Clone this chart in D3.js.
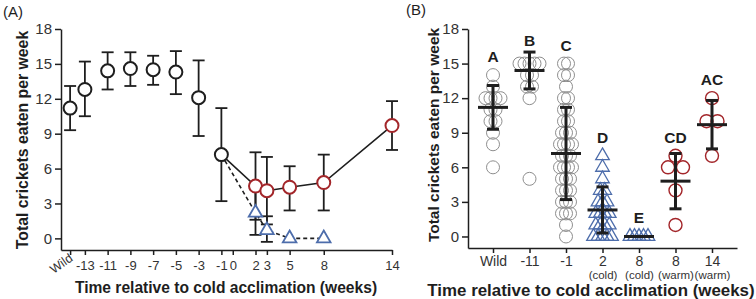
<!DOCTYPE html>
<html>
<head>
<meta charset="utf-8">
<script src="https://cdn.jsdelivr.net/npm/d3@7"></script>
<style>
body { margin: 0; background: #fff; }
svg { font-family: "Liberation Sans", Arial, sans-serif; }
</style>
</head>
<body>
<svg id="chart" width="756" height="299"></svg>
<script>
// ---------- Panel A data (mean with error range) ----------
var baseWeeks = ["Wild", -13, -11, -9, -7, -5, -3, -1];
var baseMean  = [11.2, 12.8, 14.4, 14.6, 14.5, 14.3, 12.1, 7.2];
var baseLo    = [9.3, 10.5, 12.8, 13.1, 13.2, 12.4, 8.8, 3.2];
var baseHi    = [13.1, 15.2, 16.0, 16.0, 15.7, 16.1, 15.3, 11.2];

var warmWeeks = [2, 3, 5, 8, 14];
var warmMean  = [4.5, 4.1, 4.4, 4.8, 9.7];
var warmLo    = [1.6, 1.2, 2.4, 2.4, 7.6];
var warmHi    = [7.4, 7.0, 6.2, 7.2, 11.8];

var coldWeeks = [2, 3, 5, 8];
var coldMean  = [2.2, 0.7, 0, 0];
var coldLo    = [0.3, -0.3, 0, 0];
var coldHi    = [4.2, 1.9, 0, 0];

var xTicksA = ["Wild", -13, -11, -9, -7, -5, -3, -1, 0, 2, 3, 5, 8, 14];
var yTicks  = [0, 3, 6, 9, 12, 15, 18];

// ---------- Panel B data (individual values + mean/sd) ----------
var groupsB  = ["Wild", "-11", "-1", "2 (cold)", "8 (cold)", "8 (warm)", "14 (warm)"];
var lettersB = ["A", "B", "C", "D", "E", "CD", "AC"];
var meanB    = [11.2, 14.4, 7.2, 2.3, 0, 4.8, 9.7];
var loB      = [9.3, 12.8, 3.2, 0.3, 0, 2.4, 7.6];
var hiB      = [13.1, 16.0, 11.2, 4.3, 0, 7.2, 11.8];

var ptsWild  = [14, 13, 12, 12, 12, 12, 11, 11, 10, 10, 9, 8, 6];
var ptsM11   = [15, 15, 15, 15, 15, 14, 14, 13, 13, 12, 5];
var ptsM1    = [15, 15, 14, 14, 13, 12, 12, 11, 11, 10, 10, 9, 9, 9, 8, 8, 8, 8,
                7, 7, 7, 6, 6, 6, 6, 5, 5, 5, 4, 4, 4, 3, 3, 3, 2, 2, 2, 1, 0];
var ptsCold2 = [7, 6, 5, 4, 4, 3, 3, 3, 2, 2, 2, 2, 1, 1, 1, 1, 0, 0, 0, 0, 0];
var ptsCold8 = [0, 0, 0, 0, 0];
var ptsWarm8 = [7, 6, 6, 4, 1];
var ptsWarm14 = [12, 10, 10, 7];
var pointsB = [ptsWild, ptsM11, ptsM1, ptsCold2, ptsCold8, ptsWarm8, ptsWarm14];

// colours
var black = "#1e1e1e", red = "#a3262a", blue = "#4d6dab", grey = "#8e8e8e", txt = "#333";

var svg = d3.select("#chart");

function styleAxis(g, size) {
    g.select(".domain").attr("stroke", black).attr("stroke-width", 1.5);
    g.selectAll(".tick line").attr("stroke", black).attr("stroke-width", 1.5);
    g.selectAll(".tick text").attr("fill", txt).attr("font-size", size + "px");
}

// ================= Panel A =================
var wildPos = -14.3;
function wk(d) { return d === "Wild" ? wildPos : d; }

var xA = d3.scaleLinear().domain([-15.1, 14]).range([61, 392]);
var yA = d3.scaleLinear().domain([-1, 18]).range([250, 29]);

var gA = svg.append("g");

var yAxisA = gA.append("g")
    .attr("transform", "translate(" + xA.range()[0] + ",0)")
    .call(d3.axisLeft(yA).tickValues(yTicks).tickSize(6).tickSizeOuter(0));
styleAxis(yAxisA, 15);

var xAxisA = gA.append("g")
    .attr("transform", "translate(0," + yA.range()[0] + ")")
    .call(d3.axisBottom(xA).tickValues(xTicksA.map(wk)).tickSize(5).tickPadding(6).tickSizeOuter(0)
        .tickFormat(function(d) { return d === wildPos ? "Wild" : d; }));
styleAxis(xAxisA, 13);
xAxisA.selectAll(".tick text")
    .filter(function(d) { return d === wildPos; })
    .attr("text-anchor", "end")
    .attr("font-size", "12.5px")
    .attr("dy", 0)
    .attr("y", 0)
    .attr("transform", "translate(3,10) rotate(-35)");

gA.append("text")
    .attr("x", 226).attr("y", 293)
    .attr("text-anchor", "middle")
    .attr("font-weight", "bold").attr("font-size", "15.6px").attr("fill", black)
    .text("Time relative to cold acclimation (weeks)");

gA.append("text")
    .attr("transform", "translate(22,140) rotate(-90)")
    .attr("dy", "0.35em")
    .attr("text-anchor", "middle")
    .attr("font-weight", "bold").attr("font-size", "15.8px").attr("fill", black)
    .text("Total crickets eaten per week");

gA.append("text").attr("x", 3).attr("y", 17)
    .attr("font-size", "15px").attr("fill", black).text("(A)");

// build rows
var baseRows = baseWeeks.map(function(w, i) { return { w: wk(w), m: baseMean[i], lo: baseLo[i], hi: baseHi[i] }; });
var warmRows = warmWeeks.map(function(w, i) { return { w: w, m: warmMean[i], lo: warmLo[i], hi: warmHi[i] }; });
var coldRows = coldWeeks.map(function(w, i) { return { w: w, m: coldMean[i], lo: coldLo[i], hi: coldHi[i] }; });

// error bars
function errorBars(g, rows, x, y, cap, sw) {
    var eb = g.append("g").attr("stroke", black).attr("stroke-width", sw).attr("fill", "none");
    rows.filter(function(d) { return d.hi > d.lo; }).forEach(function(d) {
        eb.append("line").attr("x1", x(d.w)).attr("x2", x(d.w)).attr("y1", y(d.lo)).attr("y2", y(d.hi));
        eb.append("line").attr("x1", x(d.w) - cap / 2).attr("x2", x(d.w) + cap / 2).attr("y1", y(d.lo)).attr("y2", y(d.lo));
        eb.append("line").attr("x1", x(d.w) - cap / 2).attr("x2", x(d.w) + cap / 2).attr("y1", y(d.hi)).attr("y2", y(d.hi));
    });
}
errorBars(gA, baseRows.concat(warmRows, coldRows), xA, yA, 12, 1.8);

// connecting lines from week -1
var start = baseRows[baseRows.length - 1];
var line = d3.line().x(function(d) { return xA(d.w); }).y(function(d) { return yA(d.m); });
gA.append("path").datum([start].concat(coldRows))
    .attr("d", line).attr("fill", "none").attr("stroke", black)
    .attr("stroke-width", 1.6).attr("stroke-dasharray", "4,3");
gA.append("path").datum([start].concat(warmRows))
    .attr("d", line).attr("fill", "none").attr("stroke", black).attr("stroke-width", 1.6);

// markers
gA.selectAll(".base").data(baseRows).enter().append("circle")
    .attr("cx", function(d) { return xA(d.w); }).attr("cy", function(d) { return yA(d.m); })
    .attr("r", 6.5).attr("fill", "#fff").attr("stroke", black).attr("stroke-width", 2);
gA.selectAll(".warm").data(warmRows).enter().append("circle")
    .attr("cx", function(d) { return xA(d.w); }).attr("cy", function(d) { return yA(d.m); })
    .attr("r", 6.5).attr("fill", "#fff").attr("stroke", red).attr("stroke-width", 2);
var tri = d3.symbol().type(d3.symbolTriangle).size(80);
gA.selectAll(".cold").data(coldRows).enter().append("path")
    .attr("d", tri)
    .attr("transform", function(d) { return "translate(" + xA(d.w) + "," + yA(d.m) + ")"; })
    .attr("fill", "#fff").attr("stroke", blue).attr("stroke-width", 1.8);

// ================= Panel B =================
var xB = d3.scalePoint().domain(groupsB).range([468, 737]).padding(0.685);
var yB = d3.scaleLinear().domain([-1, 18]).range([248, 29]);

var gB = svg.append("g");

var yAxisB = gB.append("g")
    .attr("transform", "translate(" + xB.range()[0] + ",0)")
    .call(d3.axisLeft(yB).tickValues(yTicks).tickSize(6).tickSizeOuter(0));
styleAxis(yAxisB, 15);

var xAxisB = gB.append("g")
    .attr("transform", "translate(0," + yB.range()[0] + ")")
    .call(d3.axisBottom(xB).tickSize(5).tickSizeOuter(0)
        .tickFormat(function(d) { return d.split(" ")[0]; }));
styleAxis(xAxisB, 14);
xAxisB.selectAll(".tick").each(function(d) {
    var parts = d.split(" ");
    if (parts.length > 1) {
        d3.select(this).append("text")
            .attr("y", 31).attr("text-anchor", "middle")
            .attr("fill", txt).attr("font-size", "11.5px")
            .text(parts[1]);
    }
});

gB.append("text")
    .attr("x", 591).attr("y", 296)
    .attr("text-anchor", "middle")
    .attr("font-weight", "bold").attr("font-size", "16.9px").attr("fill", black)
    .text("Time relative to cold acclimation (weeks)");

gB.append("text")
    .attr("transform", "translate(434,135) rotate(-90)")
    .attr("dy", "0.35em")
    .attr("text-anchor", "middle")
    .attr("font-weight", "bold").attr("font-size", "15.5px").attr("fill", black)
    .text("Total crickets eaten per week");

gB.append("text").attr("x", 406).attr("y", 15)
    .attr("font-size", "15px").attr("fill", black).text("(B)");

// horizontal spread of repeated values, per group
var spreadB = [5, 5, 4, 4.5, 4.5, 15, 11];

groupsB.forEach(function(grp, gi) {
    var vals = pointsB[gi];
    var isCold = grp.indexOf("cold") >= 0;
    var isWarm = grp.indexOf("warm") >= 0;
    var counts = d3.rollup(vals, function(v) { return v.length; }, function(v) { return v; });
    var seen = new Map();
    var pts = vals.map(function(v) {
        var k = seen.get(v) || 0; seen.set(v, k + 1);
        var n = counts.get(v);
        return { v: v, dx: (k - (n - 1) / 2) * spreadB[gi] };
    });
    var cx = xB(grp);
    var colour = isCold ? blue : (isWarm ? red : grey);
    var sel = gB.append("g").selectAll("path").data(pts).enter();
    if (isCold) {
        sel.append("path").attr("d", tri)
            .attr("transform", function(d) { return "translate(" + (cx + d.dx) + "," + yB(d.v) + ")"; })
            .attr("fill", "none").attr("stroke", colour).attr("stroke-width", 1.3);
    } else {
        sel.append("circle")
            .attr("cx", function(d) { return cx + d.dx; }).attr("cy", function(d) { return yB(d.v); })
            .attr("r", 6.5).attr("fill", "none").attr("stroke", colour)
            .attr("stroke-width", isWarm ? 1.4 : 1);
    }
});

// mean and sd bars
var rowsB = groupsB.map(function(g, i) { return { w: g, m: meanB[i], lo: loB[i], hi: hiB[i] }; });
errorBars(gB, rowsB, xB, yB, 12, 3);
gB.append("g").selectAll("line").data(rowsB).enter().append("line")
    .attr("x1", function(d) { return xB(d.w) - 15; }).attr("x2", function(d) { return xB(d.w) + 15; })
    .attr("y1", function(d) { return yB(d.m); }).attr("y2", function(d) { return yB(d.m); })
    .attr("stroke", black).attr("stroke-width", 3);

// significance letters above highest mark
gB.append("g").selectAll("text").data(rowsB).enter().append("text")
    .attr("x", function(d) { return xB(d.w); })
    .attr("y", function(d, i) {
        var top = Math.min(yB(d3.max(pointsB[i])) - 7, yB(d.hi));
        return top - 6;
    })
    .attr("text-anchor", "middle")
    .attr("font-weight", "bold").attr("font-size", "15.5px").attr("fill", black)
    .text(function(d, i) { return lettersB[i]; });
</script>
</body>
</html>
